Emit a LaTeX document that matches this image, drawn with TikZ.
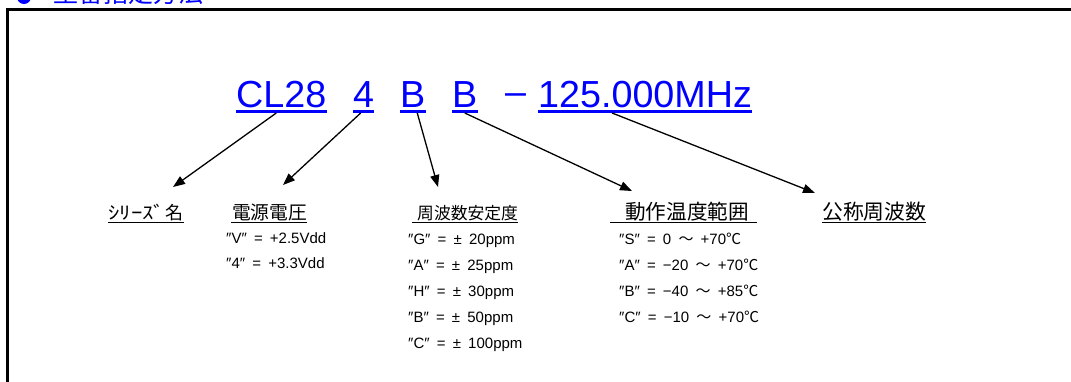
\documentclass[tikz,border=0pt]{standalone}
\usepackage{fontspec}
\usepackage{graphicx}
\setmainfont{Liberation Sans}
\newfontfamily\cjk{Noto Sans CJK JP}
\usetikzlibrary{arrows.meta}
\definecolor{codeblue}{RGB}{0,0,255}
\begin{document}
\begin{tikzpicture}[x=1pt,y=-1pt,
  code/.style={anchor=base west, inner sep=0pt, text=codeblue, font=\fontsize{37.7}{40}\selectfont},
  codeul/.style={draw=codeblue, line width=3pt},
  lbl/.style={anchor=base west, inner sep=0pt},
  lblul/.style={draw=black, line width=1.5pt},
  dat/.style={anchor=base west, inner sep=0pt, font=\fontsize{15}{18}\selectfont,
    execute at begin node={\spaceskip=7.2pt\relax}},
  arr/.style={draw=black, line width=1.3pt, -{Triangle[length=12pt,width=9pt]}},
  frame/.style={draw=black, line width=2.7pt}
]
\useasboundingbox (0,0) rectangle (1071,381);
\clip (0,0) rectangle (1071,381);
\fill[white] (0,0) rectangle (1071,381);

% title (cut off at the top)
\node[circle, fill=codeblue, minimum size=14pt, inner sep=0pt] (dot) at (24,-3) {};
\node[lbl, text=codeblue, font=\cjk\fontsize{25}{25}\selectfont] (title) at (53,2.3) {型番指定方法};

% frame
\draw[frame] (7.5,400) |- (1090,9.5);

% code
\node[code] (cl) at (236,107) {CL28};
\node[code] (v4) at (353,107) {4};
\node[code] (b1) at (400,107) {B};
\node[code] (b2) at (452,107) {B};
\node[code] (dash) at (505,104) {–};
\node[code] (fr) at (538,107) {125.000MHz};
\foreach \n in {cl,v4,b1,b2,fr}{
  \draw[codeul] ([yshift=-4.5pt]\n.base west) -- ([yshift=-4.5pt]\n.base east);
}

% labels
\node[lbl, font=\cjk\fontsize{18}{20}\selectfont] (l1) at (108,219.5) {\scalebox{1.27}[1]{ｼﾘｰｽﾞ}名};
\node[lbl, font=\cjk\fontsize{18.75}{20}\selectfont] (l2) at (232,219.5) {電源電圧};
\node[lbl, font=\cjk\fontsize{16.8}{20}\selectfont] (l3) at (417,219.5) {周波数安定度};
\node[lbl, font=\cjk\fontsize{20.6}{22}\selectfont] (l4) at (625,219.5) {動作温度範囲};
\node[lbl, font=\cjk\fontsize{20.8}{22}\selectfont] (l5) at (822,219.5) {公称周波数};
\draw[lblul] ([yshift=-3pt]l1.base west) -- ([yshift=-3pt]l1.base east);
\draw[lblul] ([xshift=-1pt,yshift=-3pt]l2.base west) -- ([yshift=-3pt]l2.base east);
\draw[lblul] ([xshift=-5pt,yshift=-3pt]l3.base west) -- ([yshift=-3pt]l3.base east);
\draw[lblul] ([xshift=-15pt,yshift=-3pt]l4.base west) -- ([xshift=8pt,yshift=-3pt]l4.base east);
\draw[lblul] ([yshift=-3pt]l5.base west) -- ([yshift=-3pt]l5.base east);

% data
\node[dat] (v1) at (226,243.5) {″V″ = +2.5Vdd};
\node[dat] (v2) at (226,268) {″4″ = +3.3Vdd};
\node[dat] (f1) at (408,244) {″G″ = ± 20ppm};
\node[dat] (f2) at (408,270) {″A″ = ± 25ppm};
\node[dat] (f3) at (408,296) {″H″ = ± 30ppm};
\node[dat] (f4) at (408,322) {″B″ = ± 50ppm};
\node[dat] (f5) at (408,348) {″C″ = ± 100ppm};
\node[dat] (t1) at (619,244) {″S″ = 0 {\cjk ～} +70{\cjk ℃}};
\node[dat] (t2) at (619,270) {″A″ = −20 {\cjk ～} +70{\cjk ℃}};
\node[dat] (t3) at (619,296) {″B″ = −40 {\cjk ～} +85{\cjk ℃}};
\node[dat] (t4) at (619,322) {″C″ = −10 {\cjk ～} +70{\cjk ℃}};

% arrow tips
\coordinate (e1) at (173,187);
\coordinate (e2) at (283,185);
\coordinate (e3) at (438,187);
\coordinate (e4) at (632,191);
\coordinate (e5) at (815,193);

% arrows
\draw[arr] ([xshift=-5pt,yshift=-6pt]cl.base) -- (e1);
\draw[arr] ([xshift=-3pt,yshift=-6pt]v4.base) -- (e2);
\draw[arr] ([xshift=4.5pt,yshift=-6pt]b1.base) -- (e3);
\draw[arr] ([yshift=-6pt]b2.base) -- (e4);
\draw[arr] ([xshift=-33pt,yshift=-6pt]fr.base) -- (e5);
\end{tikzpicture}
\end{document}
